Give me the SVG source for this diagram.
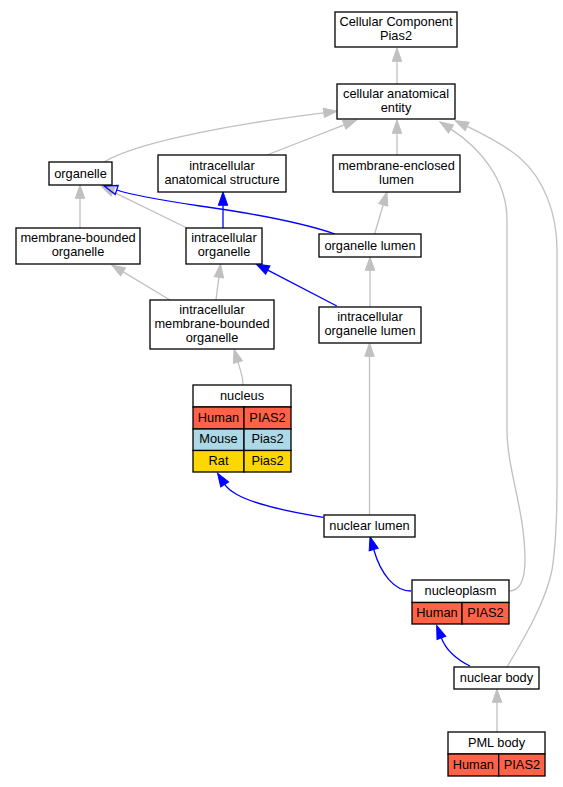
<svg xmlns="http://www.w3.org/2000/svg" width="563" height="787" viewBox="0 0 563 787">
<style>
.n{fill:#fff;stroke:#000;stroke-width:1.3}
.t{font-family:"Liberation Sans",Arial,sans-serif;font-size:12.8px;fill:#000;text-anchor:middle}
.g{fill:none;stroke:#c0c0c0;stroke-width:1.3}
.b{fill:none;stroke:#0000ff;stroke-width:1.3}
.hu{fill:#ff6347;stroke:#000;stroke-width:1.3}
.mo{fill:#add8e6;stroke:#000;stroke-width:1.3}
.ra{fill:#ffd700;stroke:#000;stroke-width:1.3}
</style>
<defs>
<marker id="ag" markerUnits="userSpaceOnUse" markerWidth="16" markerHeight="12" refX="0" refY="5" orient="auto" overflow="visible"><path d="M0,0.3 L13.3,5 L0,9.7 z" fill="#c0c0c0" stroke="#c0c0c0" stroke-width="1"/></marker>
<marker id="ab" markerUnits="userSpaceOnUse" markerWidth="16" markerHeight="12" refX="0" refY="5" orient="auto" overflow="visible"><path d="M0,0.3 L13.3,5 L0,9.7 z" fill="#0000ff" stroke="#0000ff" stroke-width="1"/></marker>
<marker id="abo" markerUnits="userSpaceOnUse" markerWidth="16" markerHeight="12" refX="0" refY="5" orient="auto" overflow="visible"><path d="M0,0.3 L13.3,5 L0,9.7 z" fill="none" stroke="#0000ff" stroke-width="1.3"/></marker>
</defs>
<g id="edges">
<path class="g" d="M397,84 L397,61.3" marker-end="url(#ag)"/>
<path class="g" d="M104,162 C140,140 250,122 323.8,112.9" marker-end="url(#ag)"/>
<path class="g" d="M267,155 L344.2,124.8" marker-end="url(#ag)"/>
<path class="g" d="M397,155 L397,133.3" marker-end="url(#ag)"/>
<path class="g" d="M509,591 C520,591 525,580 525,560 C525,510 507,470 507,430 L507,220 C507,180 480,148 451,129.1" marker-end="url(#ag)"/>
<path class="g" d="M507,667 C520,645 545,605 552,570 C556,545 557,520 557,480 L557,250 C557,215 545,180 520,158 C505,145 485,135 467.2,126.4" marker-end="url(#ag)"/>
<path class="g" d="M80,228 L80,198.3" marker-end="url(#ag)"/>
<path class="g" d="M187,228 L113,191.8" marker-end="url(#ag)"/>
<path class="b" d="M335,234 C300,222 250,213 200,206 C160,200 135,196 116.7,190" marker-end="url(#abo)"/>
<path class="b" d="M223,228 L223,205.3" marker-end="url(#ab)"/>
<path class="g" d="M374.6,234 L383.2,204.8" marker-end="url(#ag)"/>
<path class="g" d="M170,300 L123.1,271.9" marker-end="url(#ag)"/>
<path class="g" d="M216,300 L218.9,277.2" marker-end="url(#ag)"/>
<path class="b" d="M336.8,306 L267.8,270.1" marker-end="url(#ab)"/>
<path class="g" d="M370,307 L370,270.3" marker-end="url(#ag)"/>
<path class="g" d="M243,385 C243,376 240,369 237.9,362" marker-end="url(#ag)"/>
<path class="g" d="M369.5,515 L369.5,356.3" marker-end="url(#ag)"/>
<path class="b" d="M323.3,517.3 C290,512 255,505 236,494 C231,491 227,488 224.7,484.4" marker-end="url(#ab)"/>
<path class="b" d="M411,591 C395,591 381,575 373.7,549.5" marker-end="url(#ab)"/>
<path class="b" d="M470,666 C458,660 446,650 441.4,637.9" marker-end="url(#ab)"/>
<path class="g" d="M497,732 L497,702.3" marker-end="url(#ag)"/>
</g>
<g id="cellular_component">
<rect class="n" x="335" y="12" width="122" height="35"/>
<text class="t" x="396" y="25.8">Cellular Component</text>
<text class="t" x="396" y="39.8">Pias2</text>
</g>
<g id="cellular_anatomical_entity">
<rect class="n" x="337" y="84" width="118" height="35"/>
<text class="t" x="396" y="97.8">cellular anatomical</text>
<text class="t" x="396" y="111.8">entity</text>
</g>
<g id="organelle">
<rect class="n" x="49" y="162" width="63" height="23"/>
<text class="t" x="80.5" y="177.8">organelle</text>
</g>
<g id="intracellular_anatomical_structure">
<rect class="n" x="158" y="155" width="128" height="37"/>
<text class="t" x="222" y="169.8">intracellular</text>
<text class="t" x="222" y="183.8">anatomical structure</text>
</g>
<g id="membrane_enclosed_lumen">
<rect class="n" x="333" y="155" width="127" height="37"/>
<text class="t" x="396.5" y="169.8">membrane-enclosed</text>
<text class="t" x="396.5" y="183.8">lumen</text>
</g>
<g id="membrane_bounded_organelle">
<rect class="n" x="16" y="228" width="124" height="36"/>
<text class="t" x="78" y="242.3">membrane-bounded</text>
<text class="t" x="78" y="256.3">organelle</text>
</g>
<g id="intracellular_organelle">
<rect class="n" x="186" y="228" width="76" height="36"/>
<text class="t" x="224" y="242.3">intracellular</text>
<text class="t" x="224" y="256.3">organelle</text>
</g>
<g id="organelle_lumen">
<rect class="n" x="319" y="234" width="102" height="23"/>
<text class="t" x="370" y="249.8">organelle lumen</text>
</g>
<g id="intracellular_membrane_bounded_organelle">
<rect class="n" x="150" y="300" width="124" height="49"/>
<text class="t" x="212" y="313.8">intracellular</text>
<text class="t" x="212" y="327.8">membrane-bounded</text>
<text class="t" x="212" y="341.8">organelle</text>
</g>
<g id="intracellular_organelle_lumen">
<rect class="n" x="319" y="307" width="102" height="36"/>
<text class="t" x="370" y="321.3">intracellular</text>
<text class="t" x="370" y="335.3">organelle lumen</text>
</g>
<g id="nucleus">
<rect class="n" x="193" y="385" width="98" height="22"/>
<rect class="hu" x="193" y="407" width="51" height="22"/>
<rect class="hu" x="244" y="407" width="47" height="22"/>
<rect class="mo" x="193" y="429" width="51" height="21.5"/>
<rect class="mo" x="244" y="429" width="47" height="21.5"/>
<rect class="ra" x="193" y="450.5" width="51" height="21.5"/>
<rect class="ra" x="244" y="450.5" width="47" height="21.5"/>
<text class="t" x="242" y="399.5">nucleus</text>
<text class="t" x="218.5" y="421.5">Human</text>
<text class="t" x="267.5" y="421.5">PIAS2</text>
<text class="t" x="218.5" y="443">Mouse</text>
<text class="t" x="267.5" y="443">Pias2</text>
<text class="t" x="218.5" y="464.5">Rat</text>
<text class="t" x="267.5" y="464.5">Pias2</text>
</g>
<g id="nuclear_lumen">
<rect class="n" x="324" y="515" width="91" height="22"/>
<text class="t" x="369.5" y="529.5">nuclear lumen</text>
</g>
<g id="nucleoplasm">
<rect class="n" x="412" y="580" width="97" height="22.5"/>
<rect class="hu" x="412" y="602.5" width="50" height="21.5"/>
<rect class="hu" x="462" y="602.5" width="47" height="21.5"/>
<text class="t" x="460.5" y="594.5">nucleoplasm</text>
<text class="t" x="437" y="617">Human</text>
<text class="t" x="485.5" y="617">PIAS2</text>
</g>
<g id="nuclear_body">
<rect class="n" x="454" y="667" width="85" height="22"/>
<text class="t" x="496.5" y="681.5">nuclear body</text>
</g>
<g id="pml_body">
<rect class="n" x="448" y="732" width="97" height="22"/>
<rect class="hu" x="448" y="754" width="50.7" height="22"/>
<rect class="hu" x="498.7" y="754" width="46.3" height="22"/>
<text class="t" x="496.5" y="746.5">PML body</text>
<text class="t" x="473.3" y="768.5">Human</text>
<text class="t" x="521.9" y="768.5">PIAS2</text>
</g>
</svg>
